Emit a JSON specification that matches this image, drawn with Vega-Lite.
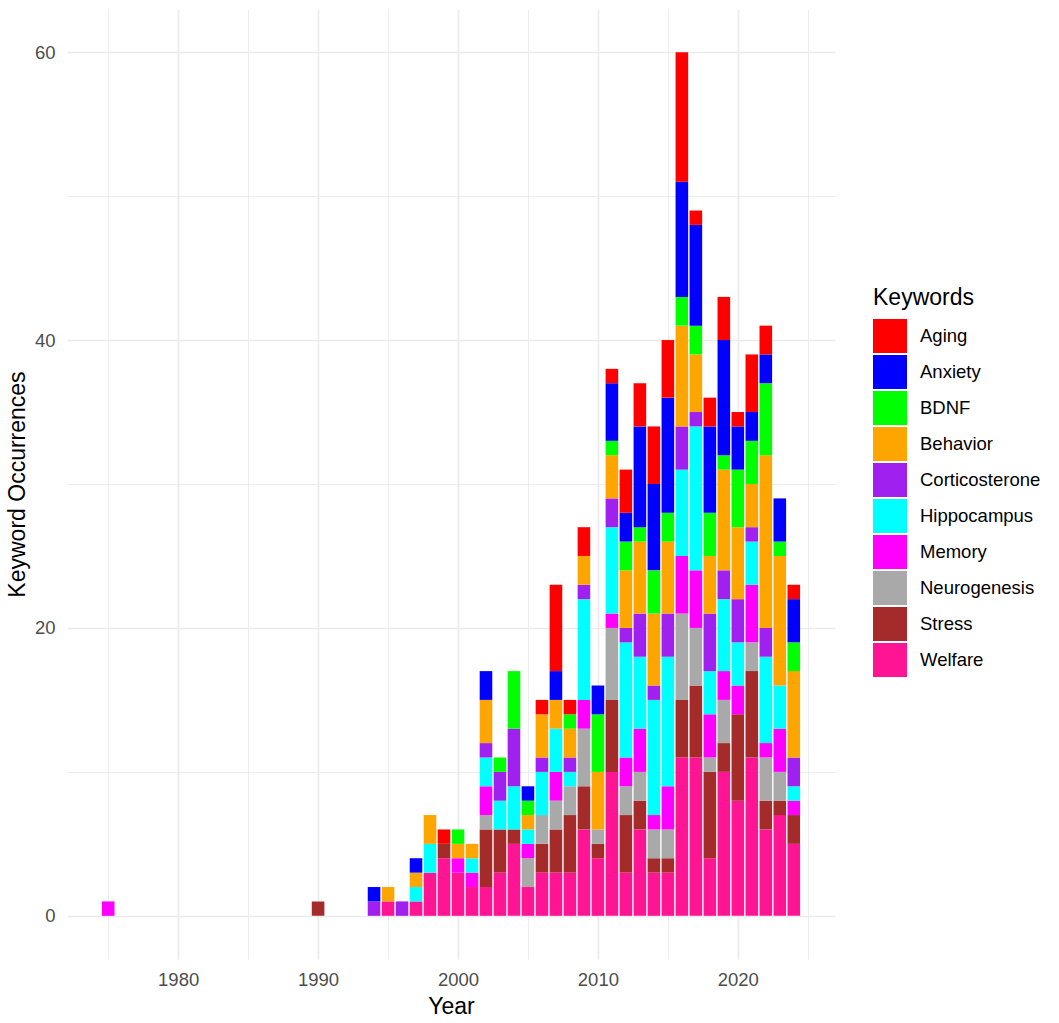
{
  "$schema": "https://vega.github.io/schema/vega-lite/v6.json",
  "width": 768,
  "height": 950,
  "autosize": {"type": "none"},
  "padding": {"left": 67, "top": 9, "right": 224, "bottom": 64},
  "background": "white",
  "config": {
    "view": {"stroke": null},
    "font": "Liberation Sans",
    "axis": {
      "domain": false,
      "ticks": false,
      "tickSize": 0,
      "gridColor": "#EBEBEB",
      "labelFontSize": 18.5,
      "labelColor": "#4D4D4D",
      "titleFontSize": 23,
      "titleFontWeight": "normal",
      "titleColor": "#000000"
    }
  },
  "data": {
    "values": [
      {"year": 1975, "keyword": "Memory", "n": 1},
      {"year": 1990, "keyword": "Stress", "n": 1},
      {"year": 1994, "keyword": "Corticosterone", "n": 1},
      {"year": 1994, "keyword": "Anxiety", "n": 1},
      {"year": 1995, "keyword": "Welfare", "n": 1},
      {"year": 1995, "keyword": "Behavior", "n": 1},
      {"year": 1996, "keyword": "Corticosterone", "n": 1},
      {"year": 1997, "keyword": "Welfare", "n": 1},
      {"year": 1997, "keyword": "Hippocampus", "n": 1},
      {"year": 1997, "keyword": "Behavior", "n": 1},
      {"year": 1997, "keyword": "Anxiety", "n": 1},
      {"year": 1998, "keyword": "Welfare", "n": 3},
      {"year": 1998, "keyword": "Hippocampus", "n": 2},
      {"year": 1998, "keyword": "Behavior", "n": 2},
      {"year": 1999, "keyword": "Welfare", "n": 4},
      {"year": 1999, "keyword": "Stress", "n": 1},
      {"year": 1999, "keyword": "Aging", "n": 1},
      {"year": 2000, "keyword": "Welfare", "n": 3},
      {"year": 2000, "keyword": "Memory", "n": 1},
      {"year": 2000, "keyword": "Behavior", "n": 1},
      {"year": 2000, "keyword": "BDNF", "n": 1},
      {"year": 2001, "keyword": "Welfare", "n": 2},
      {"year": 2001, "keyword": "Memory", "n": 1},
      {"year": 2001, "keyword": "Hippocampus", "n": 1},
      {"year": 2001, "keyword": "Behavior", "n": 1},
      {"year": 2002, "keyword": "Welfare", "n": 2},
      {"year": 2002, "keyword": "Stress", "n": 4},
      {"year": 2002, "keyword": "Neurogenesis", "n": 1},
      {"year": 2002, "keyword": "Memory", "n": 2},
      {"year": 2002, "keyword": "Hippocampus", "n": 2},
      {"year": 2002, "keyword": "Corticosterone", "n": 1},
      {"year": 2002, "keyword": "Behavior", "n": 3},
      {"year": 2002, "keyword": "Anxiety", "n": 2},
      {"year": 2003, "keyword": "Welfare", "n": 3},
      {"year": 2003, "keyword": "Stress", "n": 3},
      {"year": 2003, "keyword": "Hippocampus", "n": 2},
      {"year": 2003, "keyword": "Corticosterone", "n": 2},
      {"year": 2003, "keyword": "BDNF", "n": 1},
      {"year": 2004, "keyword": "Welfare", "n": 5},
      {"year": 2004, "keyword": "Stress", "n": 1},
      {"year": 2004, "keyword": "Hippocampus", "n": 3},
      {"year": 2004, "keyword": "Corticosterone", "n": 4},
      {"year": 2004, "keyword": "BDNF", "n": 4},
      {"year": 2005, "keyword": "Welfare", "n": 2},
      {"year": 2005, "keyword": "Neurogenesis", "n": 2},
      {"year": 2005, "keyword": "Memory", "n": 1},
      {"year": 2005, "keyword": "Hippocampus", "n": 1},
      {"year": 2005, "keyword": "Behavior", "n": 1},
      {"year": 2005, "keyword": "BDNF", "n": 1},
      {"year": 2005, "keyword": "Anxiety", "n": 1},
      {"year": 2006, "keyword": "Welfare", "n": 3},
      {"year": 2006, "keyword": "Stress", "n": 2},
      {"year": 2006, "keyword": "Neurogenesis", "n": 2},
      {"year": 2006, "keyword": "Hippocampus", "n": 3},
      {"year": 2006, "keyword": "Corticosterone", "n": 1},
      {"year": 2006, "keyword": "Behavior", "n": 3},
      {"year": 2006, "keyword": "Aging", "n": 1},
      {"year": 2007, "keyword": "Welfare", "n": 3},
      {"year": 2007, "keyword": "Stress", "n": 3},
      {"year": 2007, "keyword": "Neurogenesis", "n": 2},
      {"year": 2007, "keyword": "Memory", "n": 2},
      {"year": 2007, "keyword": "Hippocampus", "n": 3},
      {"year": 2007, "keyword": "Behavior", "n": 2},
      {"year": 2007, "keyword": "Anxiety", "n": 2},
      {"year": 2007, "keyword": "Aging", "n": 6},
      {"year": 2008, "keyword": "Welfare", "n": 3},
      {"year": 2008, "keyword": "Stress", "n": 4},
      {"year": 2008, "keyword": "Neurogenesis", "n": 2},
      {"year": 2008, "keyword": "Hippocampus", "n": 1},
      {"year": 2008, "keyword": "Corticosterone", "n": 1},
      {"year": 2008, "keyword": "Behavior", "n": 2},
      {"year": 2008, "keyword": "BDNF", "n": 1},
      {"year": 2008, "keyword": "Aging", "n": 1},
      {"year": 2009, "keyword": "Welfare", "n": 6},
      {"year": 2009, "keyword": "Stress", "n": 3},
      {"year": 2009, "keyword": "Neurogenesis", "n": 4},
      {"year": 2009, "keyword": "Memory", "n": 2},
      {"year": 2009, "keyword": "Hippocampus", "n": 7},
      {"year": 2009, "keyword": "Corticosterone", "n": 1},
      {"year": 2009, "keyword": "Behavior", "n": 2},
      {"year": 2009, "keyword": "Aging", "n": 2},
      {"year": 2010, "keyword": "Welfare", "n": 4},
      {"year": 2010, "keyword": "Stress", "n": 1},
      {"year": 2010, "keyword": "Neurogenesis", "n": 1},
      {"year": 2010, "keyword": "Behavior", "n": 4},
      {"year": 2010, "keyword": "BDNF", "n": 4},
      {"year": 2010, "keyword": "Anxiety", "n": 2},
      {"year": 2011, "keyword": "Welfare", "n": 10},
      {"year": 2011, "keyword": "Stress", "n": 5},
      {"year": 2011, "keyword": "Neurogenesis", "n": 5},
      {"year": 2011, "keyword": "Memory", "n": 1},
      {"year": 2011, "keyword": "Hippocampus", "n": 6},
      {"year": 2011, "keyword": "Corticosterone", "n": 2},
      {"year": 2011, "keyword": "Behavior", "n": 3},
      {"year": 2011, "keyword": "BDNF", "n": 1},
      {"year": 2011, "keyword": "Anxiety", "n": 4},
      {"year": 2011, "keyword": "Aging", "n": 1},
      {"year": 2012, "keyword": "Welfare", "n": 3},
      {"year": 2012, "keyword": "Stress", "n": 4},
      {"year": 2012, "keyword": "Neurogenesis", "n": 2},
      {"year": 2012, "keyword": "Memory", "n": 2},
      {"year": 2012, "keyword": "Hippocampus", "n": 8},
      {"year": 2012, "keyword": "Corticosterone", "n": 1},
      {"year": 2012, "keyword": "Behavior", "n": 4},
      {"year": 2012, "keyword": "BDNF", "n": 2},
      {"year": 2012, "keyword": "Anxiety", "n": 2},
      {"year": 2012, "keyword": "Aging", "n": 3},
      {"year": 2013, "keyword": "Welfare", "n": 6},
      {"year": 2013, "keyword": "Stress", "n": 2},
      {"year": 2013, "keyword": "Neurogenesis", "n": 2},
      {"year": 2013, "keyword": "Memory", "n": 3},
      {"year": 2013, "keyword": "Hippocampus", "n": 5},
      {"year": 2013, "keyword": "Corticosterone", "n": 3},
      {"year": 2013, "keyword": "Behavior", "n": 5},
      {"year": 2013, "keyword": "BDNF", "n": 1},
      {"year": 2013, "keyword": "Anxiety", "n": 7},
      {"year": 2013, "keyword": "Aging", "n": 3},
      {"year": 2014, "keyword": "Welfare", "n": 3},
      {"year": 2014, "keyword": "Stress", "n": 1},
      {"year": 2014, "keyword": "Neurogenesis", "n": 2},
      {"year": 2014, "keyword": "Memory", "n": 1},
      {"year": 2014, "keyword": "Hippocampus", "n": 8},
      {"year": 2014, "keyword": "Corticosterone", "n": 1},
      {"year": 2014, "keyword": "Behavior", "n": 5},
      {"year": 2014, "keyword": "BDNF", "n": 3},
      {"year": 2014, "keyword": "Anxiety", "n": 6},
      {"year": 2014, "keyword": "Aging", "n": 4},
      {"year": 2015, "keyword": "Welfare", "n": 3},
      {"year": 2015, "keyword": "Stress", "n": 1},
      {"year": 2015, "keyword": "Neurogenesis", "n": 2},
      {"year": 2015, "keyword": "Memory", "n": 3},
      {"year": 2015, "keyword": "Hippocampus", "n": 9},
      {"year": 2015, "keyword": "Corticosterone", "n": 3},
      {"year": 2015, "keyword": "Behavior", "n": 5},
      {"year": 2015, "keyword": "BDNF", "n": 2},
      {"year": 2015, "keyword": "Anxiety", "n": 8},
      {"year": 2015, "keyword": "Aging", "n": 4},
      {"year": 2016, "keyword": "Welfare", "n": 11},
      {"year": 2016, "keyword": "Stress", "n": 4},
      {"year": 2016, "keyword": "Neurogenesis", "n": 6},
      {"year": 2016, "keyword": "Memory", "n": 4},
      {"year": 2016, "keyword": "Hippocampus", "n": 6},
      {"year": 2016, "keyword": "Corticosterone", "n": 3},
      {"year": 2016, "keyword": "Behavior", "n": 7},
      {"year": 2016, "keyword": "BDNF", "n": 2},
      {"year": 2016, "keyword": "Anxiety", "n": 8},
      {"year": 2016, "keyword": "Aging", "n": 9},
      {"year": 2017, "keyword": "Welfare", "n": 11},
      {"year": 2017, "keyword": "Stress", "n": 5},
      {"year": 2017, "keyword": "Neurogenesis", "n": 4},
      {"year": 2017, "keyword": "Memory", "n": 4},
      {"year": 2017, "keyword": "Hippocampus", "n": 10},
      {"year": 2017, "keyword": "Corticosterone", "n": 1},
      {"year": 2017, "keyword": "Behavior", "n": 4},
      {"year": 2017, "keyword": "BDNF", "n": 2},
      {"year": 2017, "keyword": "Anxiety", "n": 7},
      {"year": 2017, "keyword": "Aging", "n": 1},
      {"year": 2018, "keyword": "Welfare", "n": 4},
      {"year": 2018, "keyword": "Stress", "n": 6},
      {"year": 2018, "keyword": "Neurogenesis", "n": 1},
      {"year": 2018, "keyword": "Memory", "n": 3},
      {"year": 2018, "keyword": "Hippocampus", "n": 3},
      {"year": 2018, "keyword": "Corticosterone", "n": 4},
      {"year": 2018, "keyword": "Behavior", "n": 4},
      {"year": 2018, "keyword": "BDNF", "n": 3},
      {"year": 2018, "keyword": "Anxiety", "n": 6},
      {"year": 2018, "keyword": "Aging", "n": 2},
      {"year": 2019, "keyword": "Welfare", "n": 10},
      {"year": 2019, "keyword": "Stress", "n": 2},
      {"year": 2019, "keyword": "Neurogenesis", "n": 3},
      {"year": 2019, "keyword": "Memory", "n": 2},
      {"year": 2019, "keyword": "Hippocampus", "n": 5},
      {"year": 2019, "keyword": "Corticosterone", "n": 2},
      {"year": 2019, "keyword": "Behavior", "n": 7},
      {"year": 2019, "keyword": "BDNF", "n": 1},
      {"year": 2019, "keyword": "Anxiety", "n": 8},
      {"year": 2019, "keyword": "Aging", "n": 3},
      {"year": 2020, "keyword": "Welfare", "n": 8},
      {"year": 2020, "keyword": "Stress", "n": 6},
      {"year": 2020, "keyword": "Memory", "n": 2},
      {"year": 2020, "keyword": "Hippocampus", "n": 3},
      {"year": 2020, "keyword": "Corticosterone", "n": 3},
      {"year": 2020, "keyword": "Behavior", "n": 5},
      {"year": 2020, "keyword": "BDNF", "n": 4},
      {"year": 2020, "keyword": "Anxiety", "n": 3},
      {"year": 2020, "keyword": "Aging", "n": 1},
      {"year": 2021, "keyword": "Welfare", "n": 11},
      {"year": 2021, "keyword": "Stress", "n": 6},
      {"year": 2021, "keyword": "Neurogenesis", "n": 2},
      {"year": 2021, "keyword": "Memory", "n": 4},
      {"year": 2021, "keyword": "Hippocampus", "n": 3},
      {"year": 2021, "keyword": "Corticosterone", "n": 1},
      {"year": 2021, "keyword": "Behavior", "n": 3},
      {"year": 2021, "keyword": "BDNF", "n": 3},
      {"year": 2021, "keyword": "Anxiety", "n": 2},
      {"year": 2021, "keyword": "Aging", "n": 4},
      {"year": 2022, "keyword": "Welfare", "n": 6},
      {"year": 2022, "keyword": "Stress", "n": 2},
      {"year": 2022, "keyword": "Neurogenesis", "n": 3},
      {"year": 2022, "keyword": "Memory", "n": 1},
      {"year": 2022, "keyword": "Hippocampus", "n": 6},
      {"year": 2022, "keyword": "Corticosterone", "n": 2},
      {"year": 2022, "keyword": "Behavior", "n": 12},
      {"year": 2022, "keyword": "BDNF", "n": 5},
      {"year": 2022, "keyword": "Anxiety", "n": 2},
      {"year": 2022, "keyword": "Aging", "n": 2},
      {"year": 2023, "keyword": "Welfare", "n": 7},
      {"year": 2023, "keyword": "Stress", "n": 1},
      {"year": 2023, "keyword": "Neurogenesis", "n": 2},
      {"year": 2023, "keyword": "Memory", "n": 3},
      {"year": 2023, "keyword": "Hippocampus", "n": 3},
      {"year": 2023, "keyword": "Behavior", "n": 9},
      {"year": 2023, "keyword": "BDNF", "n": 1},
      {"year": 2023, "keyword": "Anxiety", "n": 3},
      {"year": 2024, "keyword": "Welfare", "n": 5},
      {"year": 2024, "keyword": "Stress", "n": 2},
      {"year": 2024, "keyword": "Memory", "n": 1},
      {"year": 2024, "keyword": "Hippocampus", "n": 1},
      {"year": 2024, "keyword": "Corticosterone", "n": 2},
      {"year": 2024, "keyword": "Behavior", "n": 6},
      {"year": 2024, "keyword": "BDNF", "n": 2},
      {"year": 2024, "keyword": "Anxiety", "n": 3},
      {"year": 2024, "keyword": "Aging", "n": 1}
    ]
  },
  "mark": {"type": "bar", "width": 12.6, "opacity": 1},
  "encoding": {
    "x": {
      "field": "year",
      "type": "quantitative",
      "title": "Year",
      "scale": {"domain": [1972.055, 2026.945], "nice": false, "zero": false, "padding": 0},
      "axis": {
        "values": [1975, 1980, 1985, 1990, 1995, 2000, 2005, 2010, 2015, 2020, 2025],
        "labelExpr": "datum.value % 10 === 0 ? datum.label : ''",
        "format": "d",
        "labelPadding": 11,
        "titlePadding": 7,
        "gridWidth": {"condition": {"test": "datum.value % 10 !== 0", "value": 0.9}, "value": 1.7}
      }
    },
    "y": {
      "field": "n",
      "type": "quantitative",
      "stack": "zero",
      "title": "Keyword Occurrences",
      "scale": {"domain": [-3, 63], "nice": false, "zero": false, "padding": 0},
      "axis": {
        "values": [0, 10, 20, 30, 40, 50, 60],
        "labelExpr": "datum.value % 20 === 0 ? datum.label : ''",
        "labelPadding": 12,
        "titlePadding": 5,
        "gridWidth": {"condition": {"test": "datum.value % 20 !== 0", "value": 0.9}, "value": 1.7}
      }
    },
    "color": {
      "field": "keyword",
      "type": "nominal",
      "title": "Keywords",
      "scale": {
        "domain": ["Aging", "Anxiety", "BDNF", "Behavior", "Corticosterone", "Hippocampus", "Memory", "Neurogenesis", "Stress", "Welfare"],
        "range": ["#FF0000", "#0000FF", "#00FF00", "#FFA500", "#A020F0", "#00FFFF", "#FF00FF", "#A9A9A9", "#A52A2A", "#FF1493"]
      },
      "legend": {
        "orient": "none",
        "legendX": 806,
        "legendY": 278,
        "symbolType": "square",
        "symbolSize": 1156,
        "symbolStrokeWidth": 0,
        "symbolOpacity": 1,
        "rowPadding": 2,
        "labelOffset": 13,
        "labelFontSize": 18.5,
        "labelColor": "#000000",
        "labelLimit": 300,
        "titleFontSize": 23,
        "titleFontWeight": "normal",
        "titleColor": "#000000",
        "titlePadding": 9
      }
    },
    "order": {"field": "keyword", "sort": "descending"}
  }
}
